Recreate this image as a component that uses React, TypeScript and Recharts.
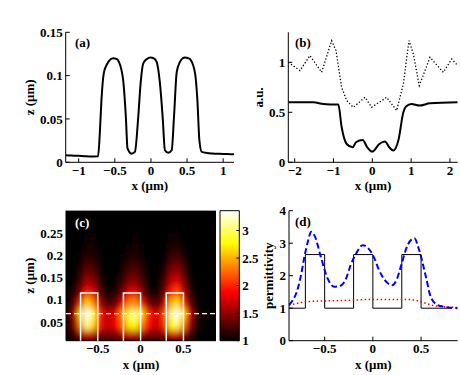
import React from "react";
import {
  ComposedChart,
  Line,
  XAxis,
  YAxis,
  Scatter,
  ReferenceArea,
  ReferenceLine,
  CartesianGrid,
} from "recharts";

const FONT = '"Liberation Serif", "Times New Roman", serif';

// (a) surface profile z(x)
const profileX = [-1.185, -1.1, -1.0, -0.9, -0.8, -0.732, -0.708, -0.685, -0.653, -0.615, -0.58, -0.524, -0.47, -0.444, -0.385, -0.347, -0.324, -0.268, -0.222, -0.176, -0.143, -0.107, -0.06, -0.004, 0.04, 0.079, 0.125, 0.1625, 0.194, 0.24, 0.2875, 0.319, 0.357, 0.403, 0.44, 0.472, 0.52, 0.551, 0.611, 0.643, 0.671, 0.704, 0.774, 0.85, 0.95, 1.05, 1.15];
const profileZ = [0.0081, 0.0078, 0.0075, 0.007, 0.0068, 0.0069, 0.033, 0.072, 0.1026, 0.112, 0.117, 0.12, 0.119, 0.116, 0.095, 0.052, 0.016, 0.01, 0.012, 0.052, 0.091, 0.114, 0.119, 0.121, 0.12, 0.116, 0.091, 0.052, 0.0139, 0.011, 0.0139, 0.052, 0.104, 0.116, 0.12, 0.121, 0.12, 0.118, 0.1026, 0.072, 0.025, 0.012, 0.0108, 0.0102, 0.0098, 0.0095, 0.0093];

// (b) solid and dotted scans
const scanX = [-2.165, -1.52, -1.26, -0.92, -0.876, -0.79, -0.66, -0.507, -0.42, -0.25, -0.13, 0, 0.18, 0.326, 0.438, 0.54, 0.67, 0.8, 0.868, 1.01, 1.21, 1.486, 2.2];
const scanSolid = [0.6, 0.6, 0.583, 0.577, 0.577, 0.35, 0.183, 0.15, 0.2, 0.223, 0.15, 0.107, 0.183, 0.207, 0.15, 0.117, 0.217, 0.5, 0.557, 0.583, 0.567, 0.59, 0.6];
const dotX = [-2.165, -1.864, -1.607, -1.306, -1.048, -0.936, -0.79, -0.66, -0.49, -0.19, -0.017, 0.37, 0.627, 0.8, 0.945, 1.057, 1.21, 1.486, 1.83, 2.045, 2.2];
const dotY = [1.0, 0.917, 1.067, 0.9, 1.217, 1.117, 0.75, 0.617, 0.55, 0.65, 0.55, 0.65, 0.517, 0.783, 1.217, 1.083, 0.767, 1.05, 0.9, 1.033, 0.967];

// (c) permittivity map, rows from bottom to top
const heatX = [-0.835, -0.765, -0.695, -0.625, -0.555, -0.485, -0.415, -0.345, -0.275, -0.205, -0.135, -0.065, 0.005, 0.075, 0.145, 0.215, 0.285, 0.355, 0.425, 0.495, 0.565, 0.635, 0.705, 0.775, 0.845];
const heatZ = [0.0202, 0.0445, 0.0688, 0.0932, 0.1175, 0.1418, 0.1662, 0.1905, 0.2148, 0.2392, 0.2635, 0.2878];
const heatRows = [
  [1.03, 1.2, 1.5, 1.72, 1.6, 1.42, 1.35, 1.35, 1.42, 1.55, 1.67, 1.67, 1.5, 1.4, 1.35, 1.37, 1.48, 1.67, 1.72, 1.48, 1.2, 1.03, 1.0, 1.0, 1.0],
  [1.15, 1.5, 2.4, 3.1, 2.65, 1.95, 1.7, 1.72, 1.88, 2.3, 2.7, 2.78, 2.4, 1.98, 1.77, 1.74, 2.1, 2.75, 3.0, 2.4, 1.6, 1.15, 1.04, 1.0, 1.0],
  [1.2, 1.6, 2.7, 3.5, 2.95, 2.05, 1.7, 1.72, 1.92, 2.45, 2.95, 3.1, 2.7, 2.1, 1.8, 1.74, 2.2, 3.05, 3.35, 2.7, 1.78, 1.2, 1.06, 1.03, 1.0],
  [1.08, 1.35, 2.05, 2.65, 2.35, 1.65, 1.3, 1.25, 1.4, 1.85, 2.3, 2.4, 2.0, 1.5, 1.28, 1.3, 1.75, 2.5, 2.7, 2.1, 1.4, 1.08, 1.02, 1.0, 1.0],
  [1.03, 1.15, 1.5, 1.95, 1.8, 1.32, 1.1, 1.06, 1.12, 1.42, 1.75, 1.82, 1.5, 1.18, 1.06, 1.08, 1.42, 1.98, 2.15, 1.7, 1.18, 1.03, 1.0, 1.0, 1.0],
  [1.0, 1.05, 1.25, 1.58, 1.5, 1.18, 1.03, 1.01, 1.05, 1.2, 1.43, 1.48, 1.28, 1.07, 1.01, 1.04, 1.26, 1.66, 1.8, 1.46, 1.08, 1.0, 1.0, 1.0, 1.0],
  [1.0, 1.02, 1.12, 1.35, 1.3, 1.1, 1.01, 1.0, 1.02, 1.1, 1.25, 1.3, 1.16, 1.04, 1.0, 1.02, 1.14, 1.42, 1.52, 1.28, 1.04, 1.0, 1.0, 1.0, 1.0],
  [1.0, 1.0, 1.05, 1.18, 1.15, 1.04, 1.0, 1.0, 1.0, 1.04, 1.12, 1.15, 1.07, 1.01, 1.0, 1.0, 1.06, 1.24, 1.3, 1.14, 1.02, 1.0, 1.0, 1.0, 1.0],
  [1.0, 1.0, 1.02, 1.08, 1.07, 1.02, 1.0, 1.0, 1.0, 1.02, 1.05, 1.07, 1.03, 1.0, 1.0, 1.0, 1.02, 1.11, 1.14, 1.06, 1.0, 1.0, 1.0, 1.0, 1.0],
  [1.0, 1.0, 1.0, 1.03, 1.03, 1.0, 1.0, 1.0, 1.0, 1.0, 1.02, 1.03, 1.01, 1.0, 1.0, 1.0, 1.0, 1.04, 1.06, 1.02, 1.0, 1.0, 1.0, 1.0, 1.0],
  [1.0, 1.0, 1.0, 1.01, 1.01, 1.0, 1.0, 1.0, 1.0, 1.0, 1.0, 1.01, 1.0, 1.0, 1.0, 1.0, 1.0, 1.01, 1.02, 1.0, 1.0, 1.0, 1.0, 1.0, 1.0],
  [1.0, 1.0, 1.0, 1.0, 1.0, 1.0, 1.0, 1.0, 1.0, 1.0, 1.0, 1.0, 1.0, 1.0, 1.0, 1.0, 1.0, 1.0, 1.0, 1.0, 1.0, 1.0, 1.0, 1.0, 1.0],
];
const rodEdges = [[-0.7, -0.5], [-0.2, 0], [0.3, 0.5]];
const rodTop = 0.115;
const cutZ = 0.069;
const cMin = 1;
const cMax = 3.36;
const colorTicks = [1, 1.5, 2, 2.5, 3];

// (d) permittivity along the cut
const blueX = [-0.87, -0.83, -0.79, -0.75, -0.71, -0.67, -0.64, -0.6, -0.54, -0.47, -0.4, -0.33, -0.28, -0.23, -0.17, -0.107, -0.05, 0.014, 0.06, 0.1, 0.15, 0.2, 0.25, 0.29, 0.36, 0.43, 0.48, 0.55, 0.6, 0.67, 0.75, 0.88];
const blueY = [1.1, 1.25, 1.5, 1.95, 2.58, 3.1, 3.35, 3.2, 2.58, 1.92, 1.66, 1.7, 1.9, 2.33, 2.7, 2.94, 2.85, 2.55, 2.2, 1.97, 1.78, 1.71, 1.9, 2.28, 2.94, 3.15, 2.79, 1.97, 1.35, 1.1, 1.04, 1.0];
const redX = [-0.87, -0.8, -0.7, -0.55, -0.4, -0.2, 0, 0.2, 0.35, 0.45, 0.52, 0.58, 0.65, 0.75, 0.88];
const redY = [1.1, 1.14, 1.2, 1.22, 1.23, 1.25, 1.27, 1.27, 1.27, 1.24, 1.18, 1.12, 1.07, 1.04, 1.02];
const stepX = [-0.87, -0.7, -0.5, -0.2, 0, 0.3, 0.5, 0.82];
const stepY = [1, 2.65, 1, 2.65, 1, 2.65, 1, 1];

const zip = (xs: number[], ys: number[]) => xs.map((x, i) => ({ x, z: ys[i] }));

const profile = zip(profileX, profileZ);
const solid = zip(scanX, scanSolid);
const dotted = zip(dotX, dotY);
const blue = zip(blueX, blueY);
const red = zip(redX, redY);
const step = zip(stepX, stepY);
const cells = heatRows.flatMap((row, j) => row.map((v, i) => ({ x: heatX[i], z: heatZ[j], v })));
const rods = rodEdges.flatMap(([a, b]) => [
  { x: a, z: 0 },
  { x: a, z: rodTop },
  { x: b, z: rodTop },
  { x: b, z: 0 },
  { x: b, z: null },
]);

const clamp = (t: number) => Math.max(0, Math.min(1, t));
const hot = (v: number) => {
  const t = clamp((v - cMin) / (cMax - cMin));
  const r = Math.round(clamp(t / 0.375) * 255);
  const g = Math.round(clamp((t - 0.375) / 0.375) * 255);
  const b = Math.round(clamp((t - 0.75) / 0.25) * 255);
  return `rgb(${r},${g},${b})`;
};

const fmt = (v: number) => String(v).replace("-", "\u2212");
const tickStyle = { fontFamily: FONT, fontSize: 13, fontWeight: 700, fill: "#000" };
const labelStyle = { fontFamily: FONT, fontSize: 13, fontWeight: 700, fill: "#000", textAnchor: "middle" as const };
const axis = { type: "number" as const, stroke: "#000", tickSize: -4, allowDataOverflow: true };

// heat map cell size in px (plot area 150 x 130)
const cellW = 150 / heatX.length;
const cellH = 130 / heatZ.length;
const HeatCell = (p: any) => {
  const v = p.payload ? p.payload.v : p.v;
  return <rect x={p.cx - cellW / 2} y={p.cy - cellH / 2} width={cellW + 0.3} height={cellH + 0.3} fill={hot(v)} />;
};

const tag = (text: string, left: number, top: number, color = "#000") => (
  <div style={{ position: "absolute", left, top, zIndex: 10, fontFamily: FONT, fontSize: 13, fontWeight: 700, color, lineHeight: "15px" }}>
    {text}
  </div>
);

export default function App() {
  const xa = [-1.18, 1.15];
  const xb = [-2.165, 2.2];
  const xc = [-0.87, 0.88];
  const zc = [0.008, 0.3];
  return (
    <div style={{ position: "absolute", left: 0, top: 0, width: 460, height: 375, background: "#fff" }}>
      <style>{`.heat-cells, .heatmap .recharts-scatter { filter: url(#heatBlur); }`}</style>
      <svg width={0} height={0} style={{ position: "absolute" }}>
        <defs>
          <filter id="heatBlur" x="0" y="0" width="1" height="1">
            <feGaussianBlur stdDeviation="2.6 3.6" edgeMode="duplicate" />
          </filter>
          <linearGradient id="hotGrad" x1="0" y1="1" x2="0" y2="0">
            <stop offset="0" stopColor="#000" />
            <stop offset="0.375" stopColor="#f00" />
            <stop offset="0.75" stopColor="#ff0" />
            <stop offset="1" stopColor="#fff" />
          </linearGradient>
        </defs>
      </svg>

      {/* (a) */}
      <div style={{ position: "absolute", left: 0, top: 0 }}>
        <ComposedChart width={240} height={195} margin={{ top: 32.3, right: 6, bottom: 0, left: 0 }}>
          <XAxis {...axis} xAxisId="b" dataKey="x" domain={xa} ticks={[-1, -0.5, 0, 0.5, 1]} height={32.7} tickMargin={7} tick={tickStyle} tickFormatter={fmt}
            label={{ value: "x (\u03bcm)", position: "insideBottom", offset: 5, style: labelStyle }} />
          <XAxis {...axis} xAxisId="t" orientation="top" dataKey="x" domain={xa} ticks={[-1, -0.5, 0, 0.5, 1]} height={0} tick={false} />
          <YAxis {...axis} yAxisId="l" dataKey="z" domain={[0, 0.15]} ticks={[0, 0.05, 0.1, 0.15]} width={65.7} tickMargin={7} tick={tickStyle} tickFormatter={fmt}
            label={{ value: "z (\u03bcm)", angle: -90, position: "insideLeft", offset: 29, style: labelStyle }} />
          <YAxis {...axis} yAxisId="r" orientation="right" dataKey="z" domain={[0, 0.15]} ticks={[0, 0.05, 0.1, 0.15]} width={0} tick={false} />
          <Line xAxisId="b" yAxisId="l" data={profile} dataKey="z" type="monotone" stroke="#000" strokeWidth={2} dot={false} isAnimationActive={false} />
        </ComposedChart>
        {tag("(a)", 75, 35)}
      </div>

      {/* (b) */}
      <div style={{ position: "absolute", left: 230, top: 0 }}>
        <ComposedChart width={230} height={195} margin={{ top: 32.3, right: 2.3, bottom: 0, left: 0 }}>
          <XAxis {...axis} xAxisId="b" dataKey="x" domain={xb} ticks={[-2, -1, 0, 1, 2]} height={32.7} tickMargin={7} tick={tickStyle} tickFormatter={fmt}
            label={{ value: "x (\u03bcm)", position: "insideBottom", offset: 5, style: labelStyle }} />
          <XAxis {...axis} xAxisId="t" orientation="top" dataKey="x" domain={xb} ticks={[-2, -1, 0, 1, 2]} height={0} tick={false} />
          <YAxis {...axis} yAxisId="l" dataKey="z" domain={[0, 1.3]} ticks={[0, 0.5, 1]} width={58.3} tickMargin={7} tick={tickStyle} tickFormatter={fmt}
            label={{ value: "a.u.", angle: -90, position: "insideLeft", offset: 28.7, style: labelStyle }} />
          <YAxis {...axis} yAxisId="r" orientation="right" dataKey="z" domain={[0, 1.3]} ticks={[0, 0.5, 1]} width={0} tick={false} />
          <Line xAxisId="b" yAxisId="l" data={dotted} dataKey="z" type="linear" stroke="#000" strokeWidth={1.3} strokeDasharray="1.3 2" dot={false} isAnimationActive={false} />
          <Line xAxisId="b" yAxisId="l" data={solid} dataKey="z" type="monotone" stroke="#000" strokeWidth={2} dot={false} isAnimationActive={false} />
        </ComposedChart>
        {tag("(b)", 65, 35)}
      </div>

      {/* (c) */}
      <div className="heatmap" style={{ position: "absolute", left: 0, top: 190 }}>
        <ComposedChart width={218} height={185} margin={{ top: 20.7, right: 2, bottom: 0, left: 0 }}>
          <CartesianGrid xAxisId="b" yAxisId="l" horizontal={false} vertical={false} fill="#000" />
          <Scatter className="heat-cells" xAxisId="b" yAxisId="l" data={cells} shape={HeatCell} isAnimationActive={false} zIndex={50} />
          <XAxis {...axis} xAxisId="b" dataKey="x" domain={xc} ticks={[-0.5, 0, 0.5]} height={34.3} tickMargin={7} tick={tickStyle} tickFormatter={fmt}
            label={{ value: "x (\u03bcm)", position: "insideBottom", offset: 6, style: labelStyle }} />
          <XAxis {...axis} xAxisId="t" orientation="top" dataKey="x" domain={xc} ticks={[-0.5, 0, 0.5]} height={0} tick={false} />
          <YAxis {...axis} yAxisId="l" dataKey="z" domain={zc} ticks={[0.05, 0.1, 0.15, 0.2, 0.25]} width={66} tickMargin={7} tick={tickStyle} tickFormatter={fmt}
            label={{ value: "z (\u03bcm)", angle: -90, position: "insideLeft", offset: 29, style: labelStyle }} />
          <YAxis {...axis} yAxisId="r" orientation="right" dataKey="z" domain={zc} ticks={[0.05, 0.1, 0.15, 0.2, 0.25]} width={0} tick={false} />
          <Line xAxisId="b" yAxisId="l" data={rods} dataKey="z" type="linear" stroke="#fff" strokeWidth={1.5} dot={false} connectNulls={false} isAnimationActive={false} zIndex={800} />
          <ReferenceLine xAxisId="b" yAxisId="l" y={cutZ} stroke="#fff" strokeWidth={1.3} strokeDasharray="5 3" zIndex={800} />
        </ComposedChart>
        {tag("(c)", 75, 25, "#fff")}
      </div>

      {/* colour bar */}
      <div style={{ position: "absolute", left: 200, top: 190 }}>
        <ComposedChart width={75} height={185} data={[{ x: 0, z: cMin }, { x: 1, z: cMax }]} margin={{ top: 20.7, right: 15, bottom: 34.3, left: 20 }}>
          <XAxis xAxisId="b" type="number" dataKey="x" domain={[0, 1]} hide />
          <ReferenceArea xAxisId="b" yAxisId="r" x1={0} x2={1} y1={cMin} y2={cMax} fill="url(#hotGrad)" fillOpacity={1} stroke="#000" strokeWidth={1} />
          <YAxis {...axis} yAxisId="r" orientation="right" dataKey="z" domain={[cMin, cMax]} ticks={colorTicks} width={20.7} tickSize={-3} tickMargin={6} tick={tickStyle} axisLine={false} />
          <YAxis {...axis} yAxisId="l" orientation="left" dataKey="z" domain={[cMin, cMax]} ticks={colorTicks} width={0} tickSize={-3} tick={false} axisLine={false} />
        </ComposedChart>
      </div>

      {/* (d) */}
      <div style={{ position: "absolute", left: 250, top: 190 }}>
        <ComposedChart width={210} height={185} margin={{ top: 20.7, right: 2.3, bottom: 0, left: 0 }}>
          <XAxis {...axis} xAxisId="b" dataKey="x" domain={xc} ticks={[-0.5, 0, 0.5]} height={34.3} tickMargin={7} tick={tickStyle} tickFormatter={fmt}
            label={{ value: "x (\u03bcm)", position: "insideBottom", offset: 6, style: labelStyle }} />
          <XAxis {...axis} xAxisId="t" orientation="top" dataKey="x" domain={xc} ticks={[-0.5, 0, 0.5]} height={0} tick={false} />
          <YAxis {...axis} yAxisId="l" dataKey="z" domain={[0, 4]} ticks={[0, 1, 2, 3, 4]} width={39} tickMargin={7} tick={tickStyle} tickFormatter={fmt}
            label={{ value: "permittivity", angle: -90, position: "insideLeft", offset: 18.3, style: labelStyle }} />
          <YAxis {...axis} yAxisId="r" orientation="right" dataKey="z" domain={[0, 4]} ticks={[0, 1, 2, 3, 4]} width={0} tick={false} />
          <Line xAxisId="b" yAxisId="l" data={step} dataKey="z" type="stepAfter" stroke="#000" strokeWidth={1} dot={false} isAnimationActive={false} />
          <Line xAxisId="b" yAxisId="l" data={red} dataKey="z" type="monotone" stroke="#f00" strokeWidth={1.5} strokeDasharray="1.5 2.5" dot={false} isAnimationActive={false} />
          <Line xAxisId="b" yAxisId="l" data={blue} dataKey="z" type="monotone" stroke="#00f" strokeWidth={2} strokeDasharray="6 3" dot={false} isAnimationActive={false} />
        </ComposedChart>
        {tag("(d)", 45, 24)}
      </div>
    </div>
  );
}
